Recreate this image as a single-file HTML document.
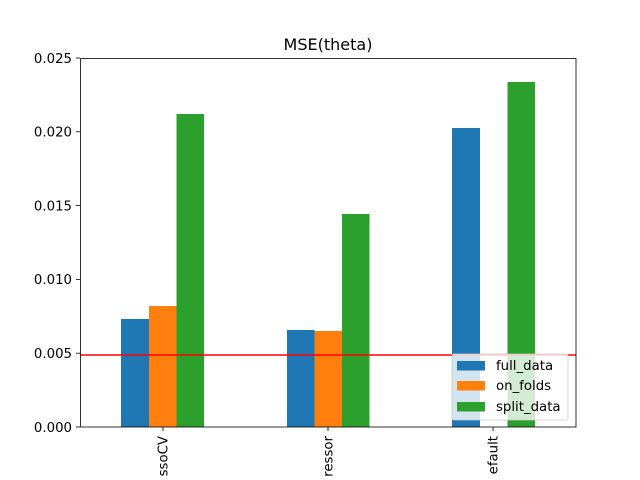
<!DOCTYPE html><html><head><style>html,body{margin:0;background:#fff;width:640px;height:480px;overflow:hidden}svg{display:block}</style></head><body>
<svg width="640" height="480" xmlns="http://www.w3.org/2000/svg" font-family="DejaVu Sans, sans-serif" font-size="13.3">
<rect width="640" height="480" fill="#fff"/>
<text x="328" y="50" font-size="16" text-anchor="middle">MSE(theta)</text>
<g>
<rect x="121" y="319" width="28" height="108" fill="#1f77b4"/>
<rect x="149" y="306" width="27.5" height="121" fill="#ff7f0e"/>
<rect x="176.5" y="114" width="27.5" height="313" fill="#2ca02c"/>
<rect x="287" y="330" width="27.5" height="97" fill="#1f77b4"/>
<rect x="314.5" y="331" width="27.5" height="96" fill="#ff7f0e"/>
<rect x="342" y="214" width="27.5" height="213" fill="#2ca02c"/>
<rect x="452" y="128" width="28" height="299" fill="#1f77b4"/>
<rect x="507.5" y="82" width="27.5" height="345" fill="#2ca02c"/>
</g>
<line x1="80" y1="355" x2="576" y2="355" stroke="#ff0000" stroke-width="1.5"/>
<rect x="80.5" y="58.5" width="495.5" height="368.5" fill="none" stroke="#000" stroke-width="0.8"/>
<g stroke="#000" stroke-width="0.8">
<line x1="76" y1="427" x2="80" y2="427"/><line x1="76" y1="353.2" x2="80" y2="353.2"/>
<line x1="76" y1="279.4" x2="80" y2="279.4"/><line x1="76" y1="205.6" x2="80" y2="205.6"/>
<line x1="76" y1="131.8" x2="80" y2="131.8"/><line x1="76" y1="58" x2="80" y2="58"/>
<line x1="163" y1="427" x2="163" y2="431"/><line x1="328" y1="427" x2="328" y2="431"/><line x1="493" y1="427" x2="493" y2="431"/>
</g>
<g text-anchor="end">
<text x="72" y="432">0.000</text><text x="72" y="358">0.005</text><text x="72" y="284">0.010</text>
<text x="72" y="210.5">0.015</text><text x="72" y="136.5">0.020</text><text x="72" y="63">0.025</text>
</g>
<g text-anchor="end">
<text transform="translate(167.5,436) rotate(-90)">ssoCV</text>
<text transform="translate(332.5,436) rotate(-90)">ressor</text>
<text transform="translate(497.5,436) rotate(-90)">efault</text>
</g>
<rect x="452" y="354" width="116" height="66" rx="2" fill="#fff" fill-opacity="0.8" stroke="#ccc" stroke-width="0.8"/>
<rect x="457" y="361" width="28" height="9.5" fill="#1f77b4"/>
<rect x="457" y="381" width="28" height="9.5" fill="#ff7f0e"/>
<rect x="457" y="402" width="28" height="9.5" fill="#2ca02c"/>
<text x="496" y="370">full_data</text>
<text x="496" y="390">on_folds</text>
<text x="496" y="411">split_data</text>
</svg>
</body></html>
